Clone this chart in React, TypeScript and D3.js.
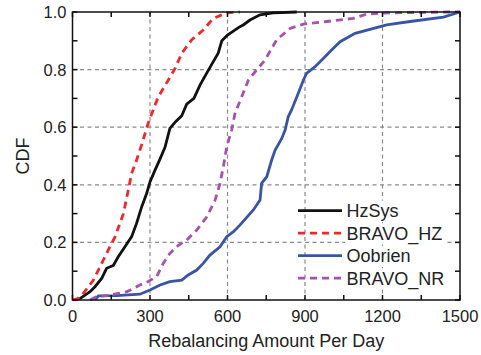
// import d3 for scales, axes and line shapes
import * as d3 from "d3";
import { useRef, useEffect } from "react";

// series: [rebalancing amount, cdf]
const hzSys: [number, number][] = [
  [10, 0], [29, 0.005], [68, 0.029], [87, 0.046], [113, 0.075], [132, 0.11], [158, 0.12],
  [177, 0.15], [203, 0.185], [229, 0.22], [248, 0.266], [268, 0.324], [287, 0.37], [300, 0.41],
  [319, 0.45], [339, 0.49], [358, 0.53], [377, 0.596], [400, 0.62], [423, 0.64], [442, 0.68],
  [470, 0.7], [494, 0.747], [519, 0.787], [540, 0.82], [564, 0.857], [578, 0.9], [600, 0.92],
  [648, 0.949], [661, 0.955], [687, 0.972], [726, 0.99], [776, 0.997], [868, 1.0],
];
const bravoHz: [number, number][] = [
  [0, 0], [20, 0.005], [42, 0.023], [81, 0.069], [113, 0.127], [145, 0.185], [165, 0.22],
  [197, 0.3], [216, 0.382], [229, 0.44], [248, 0.486], [268, 0.54], [293, 0.614], [332, 0.706],
  [371, 0.764], [397, 0.804], [423, 0.857], [461, 0.903], [506, 0.9375], [545, 0.978],
  [597, 0.997], [648, 1.0],
];
const oobrien: [number, number][] = [
  [87, 0], [94, 0.008], [100, 0.014], [171, 0.015], [261, 0.02], [300, 0.035], [339, 0.052],
  [377, 0.064], [423, 0.069], [448, 0.087], [481, 0.104], [506, 0.127], [532, 0.156],
  [571, 0.185], [597, 0.22], [623, 0.237], [648, 0.26], [700, 0.3125], [726, 0.347],
  [732, 0.405], [752, 0.428], [771, 0.486], [784, 0.52], [810, 0.561], [823, 0.59],
  [835, 0.636], [848, 0.66], [874, 0.718], [894, 0.764], [906, 0.787], [939, 0.81],
  [965, 0.833], [1003, 0.868], [1036, 0.897], [1094, 0.926], [1216, 0.955], [1307, 0.967],
  [1436, 0.982], [1500, 1.0],
];
const bravoNr: [number, number][] = [
  [68, 0], [94, 0.012], [145, 0.017], [210, 0.029], [261, 0.052], [293, 0.064], [326, 0.081],
  [351, 0.127], [377, 0.162], [410, 0.19], [442, 0.208], [481, 0.243], [520, 0.289],
  [552, 0.347], [571, 0.405], [584, 0.463], [597, 0.532], [616, 0.59], [629, 0.648],
  [655, 0.706], [681, 0.764], [713, 0.799], [745, 0.833], [790, 0.903], [842, 0.943],
  [894, 0.958], [984, 0.967], [1087, 0.978], [1139, 0.993], [1229, 0.997], [1449, 1.0],
  [1500, 1.0],
];

const seriesNames = ["HzSys", "BRAVO_HZ", "Oobrien", "BRAVO_NR"];
const seriesData = [hzSys, bravoHz, oobrien, bravoNr];
const seriesColors = ["#111111", "#ec2a2e", "#3954a4", "#a551ad"];
const seriesDash = [null, "7,5", null, "7,5"];

const xTicks = [0, 300, 600, 900, 1200, 1500];
const yTicks = [0, 0.2, 0.4, 0.6, 0.8, 1.0];

export default function App() {
  const svgRef = useRef<SVGSVGElement>(null);

  useEffect(() => {
    const svg = d3.select(svgRef.current);
    svg.selectAll("*").remove();

    const left = 72.5, right = 460, top = 12, bottom = 300;
    const font = "'Liberation Sans', Arial, sans-serif";

    const x = d3.scaleLinear().domain([0, 1500]).range([left, right]);
    const y = d3.scaleLinear().domain([0, 1]).range([bottom, top]);

    // grid lines
    const grid = svg.append("g").attr("stroke", "#8a8a8a").attr("stroke-width", 1.2).attr("stroke-dasharray", "4,3.5");
    xTicks.slice(1, -1).forEach(t => {
      grid.append("line").attr("x1", x(t)).attr("x2", x(t)).attr("y1", top).attr("y2", bottom);
    });
    yTicks.slice(1, -1).forEach(t => {
      grid.append("line").attr("x1", left).attr("x2", right).attr("y1", y(t)).attr("y2", y(t));
    });

    // curves
    const line = d3.line<[number, number]>().x(d => x(d[0])).y(d => y(d[1]));
    const plot = svg.append("g");
    seriesData.forEach((data, i) => {
      plot.append("path").attr("d", line(data)).attr("fill", "none")
        .attr("stroke", seriesColors[i]).attr("stroke-width", 2.8)
        .attr("stroke-dasharray", seriesDash[i]);
    });

    // frame with inward ticks on all sides
    const frame = svg.append("g").attr("stroke", "#111").attr("stroke-width", 1.5);
    frame.append("rect").attr("x", left).attr("y", top).attr("width", right - left).attr("height", bottom - top).attr("fill", "none");
    d3.range(0, 1501, 150).forEach(t => {
      frame.append("line").attr("x1", x(t)).attr("x2", x(t)).attr("y1", bottom).attr("y2", bottom - 5);
      frame.append("line").attr("x1", x(t)).attr("x2", x(t)).attr("y1", top).attr("y2", top + 5);
    });
    d3.range(0, 11).forEach(i => {
      const t = i / 10;
      frame.append("line").attr("x1", left).attr("x2", left + 5).attr("y1", y(t)).attr("y2", y(t));
      frame.append("line").attr("x1", right).attr("x2", right - 5).attr("y1", y(t)).attr("y2", y(t));
    });

    // tick labels
    svg.append("g").selectAll("text").data(xTicks).enter().append("text")
      .attr("x", d => x(d)).attr("y", 321.5).attr("text-anchor", "middle")
      .attr("font-family", font).attr("font-size", 16.5).attr("fill", "#222")
      .text(d => String(d));
    svg.append("g").selectAll("text").data(yTicks).enter().append("text")
      .attr("x", left - 6).attr("y", d => y(d)).attr("dy", "0.36em").attr("text-anchor", "end")
      .attr("font-family", font).attr("font-size", 16.5).attr("fill", "#222")
      .text(d => d3.format(".1f")(d));

    // axis labels
    svg.append("text").attr("x", (left + right) / 2).attr("y", 346.5).attr("text-anchor", "middle")
      .attr("font-family", font).attr("font-size", 18).attr("fill", "#222").text("Rebalancing Amount Per Day");
    svg.append("text").attr("transform", `translate(28.5,${(top + bottom) / 2}) rotate(-90)`).attr("text-anchor", "middle")
      .attr("font-family", font).attr("font-size", 18).attr("fill", "#222").text("CDF");

    // legend
    const legend = svg.append("g");
    seriesNames.forEach((name, i) => {
      const ly = 210.7 + i * 22.5;
      legend.append("rect").attr("x", 345).attr("y", ly - 10).attr("width", 102).attr("height", 20).attr("fill", "#fff");
      legend.append("line").attr("x1", 298).attr("x2", 342).attr("y1", ly).attr("y2", ly)
        .attr("stroke", seriesColors[i]).attr("stroke-width", 2.8).attr("stroke-dasharray", seriesDash[i]);
      legend.append("text").attr("x", 346.5).attr("y", ly + 6.3).attr("font-family", font)
        .attr("font-size", 18).attr("fill", "#222").text(name);
    });
  }, []);

  return (
    <svg ref={svgRef} width={481} height={355}
      style={{ position: "absolute", left: 0, top: 0, background: "#fff" }} />
  );
}
